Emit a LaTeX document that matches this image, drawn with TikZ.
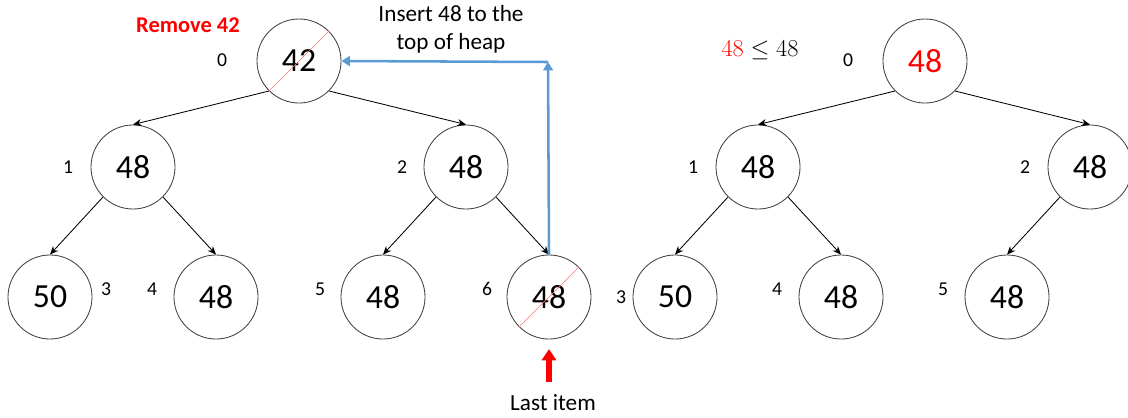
\documentclass[tikz,border=0pt]{standalone}
\usepackage{fontspec}
\setmainfont{Carlito}
\usetikzlibrary{arrows.meta}
\definecolor{insblue}{RGB}{91,155,213}
\tikzset{
	key/.style={circle, draw=black!75, semithick, minimum size=2.1cm, inner sep=0pt, font=\fontsize{24}{28}\selectfont},
	idx/.style={font=\fontsize{14}{16}\selectfont},
	note/.style={font=\fontsize{16.5}{20}\selectfont, align=center},
	link/.style={semithick, -{Stealth[length=6pt, width=5pt]}},
	strike/.style={red!55, thin},
	insert/.style={insblue, line width=1.8pt, -{Triangle[length=6pt, width=7pt]}},
	lastitem/.style={red, line width=4.5pt, -{Triangle[length=8pt, width=10pt]}},
}
\begin{document}
\begin{tikzpicture}[x=.025cm, y=-.025cm]
	\useasboundingbox (0,0) rectangle (1128,417);

	% heap before the swap
	\node[key] (a0) at (299,61) {42};
	\node[key] (a1) at (133,167) {48};
	\node[key] (a2) at (466,167) {48};
	\node[key] (a3) at (50,297) {50};
	\node[key] (a4) at (216,297) {48};
	\node[key] (a5) at (383,297) {48};
	\node[key] (a6) at (549,297) {48};

	\node[idx] (i0) at (222,60) {0};
	\node[idx] (i1) at (68,167) {1};
	\node[idx] (i2) at (402,167) {2};
	\node[idx] (i3) at (106,289) {3};
	\node[idx] (i4) at (152,289) {4};
	\node[idx] (i5) at (320,289) {5};
	\node[idx] (i6) at (487,289) {6};

	\draw[link] (a0.south west) -- (a1.north);
	\draw[link] (a0.south east) -- (a2.north);
	\draw[link] (a1.south west) -- (a3.north);
	\draw[link] (a1.south east) -- (a4.north);
	\draw[link] (a2.south west) -- (a5.north);
	\draw[link] (a2.south east) -- (a6.north);

	\draw[strike] (a0.south west) -- (a0.north east);
	\draw[strike] (a6.south west) -- (a6.north east);

	\node[note, red, font=\fontsize{16}{19}\bfseries] (rm) at (188,25) {Remove 42};
	\node[note] (ins) at (451,29) {Insert 48 to the\\top of heap};

	% move the last item up
	\coordinate (turn) at (548,62);
	\draw[insert] (a6.north) -- (turn);
	\draw[insert] (turn) -- (a0.east);

	\node[note] (last) at (553,403) {Last item};
	\coordinate (tail) at (549,382);
	\coordinate (head) at (549,349);
	\draw[lastitem] (tail) -- (head);

	% heap after the swap
	\node[key, text=red] (b0) at (925,61) {48};
	\node[key] (b1) at (758,167) {48};
	\node[key] (b2) at (1090,167) {48};
	\node[key] (b3) at (675,297) {50};
	\node[key] (b4) at (841,297) {48};
	\node[key] (b5) at (1007,297) {48};

	\node[idx] (j0) at (848,60) {0};
	\node[idx] (j1) at (693,167) {1};
	\node[idx] (j2) at (1025,167) {2};
	\node[idx] (j3) at (621,297) {3};
	\node[idx] (j4) at (777,289) {4};
	\node[idx] (j5) at (943,289) {5};

	\draw[link] (b0.south west) -- (b1.north);
	\draw[link] (b0.south east) -- (b2.north);
	\draw[link] (b1.south west) -- (b3.north);
	\draw[link] (b1.south east) -- (b4.north);
	\draw[link] (b2.south west) -- (b5.north);

	\node[font=\fontsize{16}{18}\selectfont] (cmp) at (760,50) {$\textcolor{red}{48}\leq 48$};
\end{tikzpicture}
\end{document}
